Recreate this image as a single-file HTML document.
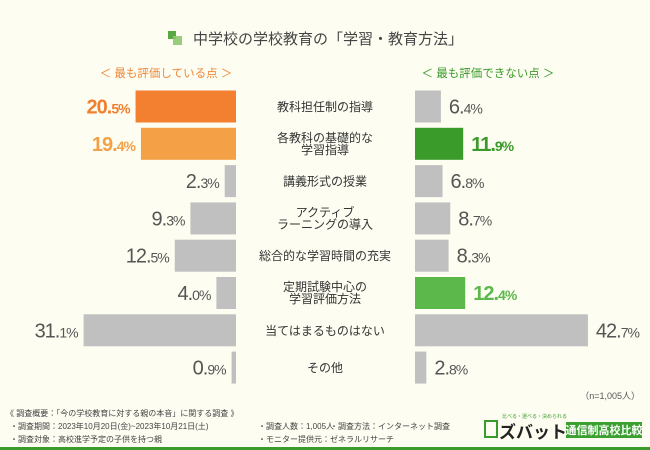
<!DOCTYPE html>
<html><head><meta charset="utf-8">
<style>
body{margin:0;width:650px;height:450px;background:#fdfdf2;font-family:"Liberation Sans","Noto Sans CJK JP",sans-serif;overflow:hidden}
svg{display:block}
</style></head>
<body>
<svg id="c" width="650" height="450">
  <rect x="0" y="0" width="650" height="450" fill="#fdfdf2"/>
  <g>
    <rect x="168" y="31" width="8" height="8" fill="#5aa844"/>
    <rect x="173" y="36" width="9" height="9" fill="#8cc870" opacity="0.9"/>
  </g>
  <text x="193" y="44" font-size="15" fill="#444">中学校の学校教育の「学習・教育方法」</text>
  <text x="166" y="77" font-size="11.5" fill="#f08838" text-anchor="middle">＜ 最も評価している点 ＞</text>
  <text x="488" y="77" font-size="11.5" fill="#3a9a2a" text-anchor="middle">＜ 最も評価できない点 ＞</text>
  <g id="bars"></g>
  <text x="640" y="399" font-size="9" fill="#555" text-anchor="end">（n=1,005人）</text>
  <g font-size="8" fill="#444">
    <text x="6" y="416">《 調査概要：「今の学校教育に対する親の本音」に関する調査 》</text>
    <text x="10" y="429">・調査期間：2023年10月20日(金)~2023年10月21日(土)</text>
    <text x="10" y="442">・調査対象：高校進学予定の子供を持つ親</text>
    <text x="258" y="429">・調査人数：1,005人</text>
    <text x="330" y="429">・調査方法：インターネット調査</text>
    <text x="258" y="442">・モニター提供元：ゼネラルリサーチ</text>
  </g>
  <g>
    <text x="502" y="418" font-size="5" fill="#3a9a2a">比べる・選べる・決められる</text>
    <rect x="485" y="421" width="12" height="16" fill="none" stroke="#3a9a2a" stroke-width="2"/>
    <text x="499" y="438" font-size="17" font-weight="bold" fill="#222">ズバット</text>
    <rect x="566" y="422" width="76" height="16" fill="#3aa030"/>
    <text x="604" y="434" font-size="11" font-weight="bold" fill="#fff" text-anchor="middle">通信制高校比較</text>
  </g>
  <rect x="0" y="447" width="650" height="3" fill="#3a9a2a"/>
</svg>
<script>
const categories=[["教科担任制の指導"],["各教科の基礎的な","学習指導"],["講義形式の授業"],["アクティブ","ラーニングの導入"],["総合的な学習時間の充実"],["定期試験中心の","学習評価方法"],["当てはまるものはない"],["その他"]];
const leftValues=[20.5,19.4,2.3,9.3,12.5,4.0,31.1,0.9];
const rightValues=[6.4,11.9,6.8,8.7,8.3,12.4,42.7,2.8];
const leftColors=["#f28030","#f4a046","#c0c0c0","#c0c0c0","#c0c0c0","#c0c0c0","#c0c0c0","#c0c0c0"];
const rightColors=["#c0c0c0","#3a9a2a","#c0c0c0","#c0c0c0","#c0c0c0","#5cb84a","#c0c0c0","#c0c0c0"];
const leftTextColors=["#f08030","#f4a046","#555","#555","#555","#555","#555","#555"];
const rightTextColors=["#555","#3a9a2a","#555","#555","#555","#5cb84a","#555","#555"];
const NS="http://www.w3.org/2000/svg";
const g=document.getElementById('bars');
const lx=236, rx=415, y0=106.5, step=37.3, bh=32;
function lScale(v){return v*4.9;}
function rScale(v){return v*4.05;}
function yPos(i){return y0+i*step;}
function mk(t,a){const e=document.createElementNS(NS,t);for(const k in a)e.setAttribute(k,a[k]);g.appendChild(e);return e;}
function valText(x,y,v,anchor,col,big){
  const t=mk('text',{x:x,y:y+7,'text-anchor':anchor,fill:col,'font-weight':big?'bold':'normal','letter-spacing':'-1'});
  const s=v.toFixed(1).split('.');
  const a=document.createElementNS(NS,'tspan');a.setAttribute('font-size','20');a.textContent=s[0]+'.';t.appendChild(a);
  const b=document.createElementNS(NS,'tspan');b.setAttribute('font-size','14');b.textContent=s[1]+'%';t.appendChild(b);
  return t;
}
categories.forEach((c,i)=>{
  const y=yPos(i);
  const wl=lScale(leftValues[i]);
  let r=mk('rect',{x:lx-wl,y:y-bh/2,width:wl,height:bh,fill:leftColors[i]});
  
  
  let t=valText(lx-wl-6,y,leftValues[i],'end',leftTextColors[i],i<2);
  
  
  const wr=rScale(rightValues[i]);
  r=mk('rect',{x:rx,y:y-bh/2,width:wr,height:bh,fill:rightColors[i]});
  
  
  t=valText(rx+wr+8,y,rightValues[i],'start',rightTextColors[i],i==1||i==5);
  
  
  const lab=mk('text',{x:325,y:c.length==1?y+4.5:y-2,'text-anchor':'middle','font-size':'12',fill:'#333'});
  
  
  c.forEach((ln,j)=>{const ts=document.createElementNS(NS,'tspan');ts.setAttribute('x',325);ts.setAttribute('dy',j?12:0);ts.textContent=ln;lab.appendChild(ts);});
});
</script>
</body></html>
